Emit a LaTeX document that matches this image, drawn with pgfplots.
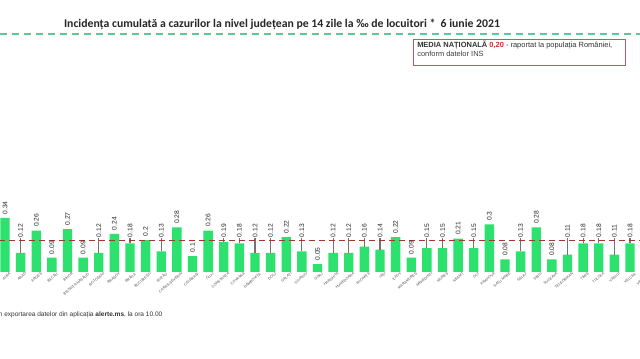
\documentclass[border=0pt]{standalone}
\usepackage{pgfplots}
\pgfplotsset{compat=1.18}
\usepackage{pgfplotstable}
\usepackage{fontspec}
\setmainfont{Liberation Sans}
\newfontfamily\calibri{Carlito}
\definecolor{bargreen}{RGB}{45,225,110}
\definecolor{meanred}{RGB}{165,55,45}
\definecolor{dashgreen}{RGB}{95,200,155}
\definecolor{boxred}{RGB}{190,90,95}
\definecolor{valred}{RGB}{215,40,40}

% x = county index, y = incidence, ly = label position
\pgfplotstableread{
x y ly lbl
0 0.34 0.358 0.34
1 0.12 0.214 0.12
2 0.26 0.278 0.26
3 0.09 0.108 0.09
4 0.27 0.288 0.27
5 0.09 0.108 0.09
6 0.12 0.214 0.12
7 0.24 0.258 0.24
8 0.18 0.214 0.18
9 0.20 0.218 0.2
10 0.13 0.214 0.13
11 0.28 0.298 0.28
12 0.10 0.118 0.1
13 0.26 0.278 0.26
14 0.19 0.214 0.19
15 0.18 0.214 0.18
16 0.12 0.214 0.12
17 0.12 0.214 0.12
18 0.22 0.238 0.22
19 0.13 0.214 0.13
20 0.05 0.068 0.05
21 0.12 0.214 0.12
22 0.12 0.214 0.12
23 0.16 0.214 0.16
24 0.14 0.214 0.14
25 0.22 0.238 0.22
26 0.09 0.108 0.09
27 0.15 0.214 0.15
28 0.15 0.214 0.15
29 0.21 0.228 0.21
30 0.15 0.214 0.15
31 0.30 0.318 0.3
32 0.08 0.098 0.08
33 0.13 0.214 0.13
34 0.28 0.298 0.28
35 0.08 0.098 0.08
36 0.11 0.214 0.11
37 0.18 0.214 0.18
38 0.18 0.214 0.18
39 0.11 0.214 0.11
40 0.18 0.214 0.18
}\incid

\begin{document}
\begin{tikzpicture}[x=0.75pt,y=0.75pt]
\useasboundingbox (0,0) rectangle (640,359);
\fill[white] (0,0) rectangle (640,359);
\clip (0,0) rectangle (640,359);

\node[font=\calibri\bfseries\fontsize{8.8}{10}\selectfont, text=black!85, inner sep=0pt] at (282,335)
  {Incidența cumulată a cazurilor la nivel județean pe 14 zile la ‰ de locuitori *~~6 iunie 2021};
\draw[dashgreen, line width=0.9pt, dash pattern=on 5.5pt off 3.5pt] (0,325) -- (640,325);

\draw[boxred, line width=0.5pt, fill=white] (413,294) rectangle (625,320);
\node[anchor=base west, inner sep=0pt, font=\fontsize{5.6}{6.5}\selectfont, text=black!80] at (417,311.5)
  {\textbf{MEDIA NAȚIONALĂ} \textcolor{valred}{\textbf{0,20}} - raportat la populația României,};
\node[anchor=base west, inner sep=0pt, font=\fontsize{5.6}{6.5}\selectfont, text=black!75] at (417,302.5)
  {conform datelor INS};

\node[anchor=base west, inner sep=0pt, font=\fontsize{4.9}{6}\selectfont, text=black!80] at (-6.5,42.5)
  {din exportarea datelor din aplicația \textbf{alerte.ms}, la ora 10.00};

\begin{axis}[
  at={(-2.109pt,65.25pt)}, anchor=south west,
  x=11.71875pt, y=119.25pt,
  xmin=-0.5, xmax=41.5, ymin=0, ymax=0.42,
  clip=false,
  axis line style={draw=none},
  ytick=\empty,
  xtick={0,...,41},
  xticklabels={ALBA,ARAD,ARGEȘ,BACĂU,BIHOR,BISTRIȚA-NĂSĂUD,BOTOȘANI,BRAȘOV,BRĂILA,BUCUREȘTI,BUZĂU,CARAȘ-SEVERIN,CĂLĂRAȘI,CLUJ,CONSTANȚA,COVASNA,DÂMBOVIȚA,DOLJ,GALAȚI,GIURGIU,GORJ,HARGHITA,HUNEDOARA,IALOMIȚA,IAȘI,ILFOV,MARAMUREȘ,MEHEDINȚI,MUREȘ,NEAMȚ,OLT,PRAHOVA,SATU MARE,SĂLAJ,SIBIU,SUCEAVA,TELEORMAN,TIMIȘ,TULCEA,VASLUI,VÂLCEA,VRANCEA},
  major tick length=0pt,
  xticklabel style={rotate=40, anchor=north east, inner sep=0pt, xshift=2.5pt, yshift=-2pt,
     font=\fontsize{2.7}{3}\selectfont, text=black!70},
  unbounded coords=jump,
]
\addplot[ybar, bar width=7pt, fill=bargreen, draw=none, bar shift=0pt] table[x=x,y=y] {\incid};
% leader lines from bar top up to the value label
\addplot[draw=black!55, line width=0.8pt, mark=none] coordinates {
 (1,0.12) (1,0.214) (nan,nan)
 (6,0.12) (6,0.214) (nan,nan)
 (8,0.18) (8,0.214) (nan,nan)
 (10,0.13) (10,0.214) (nan,nan)
 (14,0.19) (14,0.214) (nan,nan)
 (15,0.18) (15,0.214) (nan,nan)
 (16,0.12) (16,0.214) (nan,nan)
 (17,0.12) (17,0.214) (nan,nan)
 (19,0.13) (19,0.214) (nan,nan)
 (21,0.12) (21,0.214) (nan,nan)
 (22,0.12) (22,0.214) (nan,nan)
 (23,0.16) (23,0.214) (nan,nan)
 (24,0.14) (24,0.214) (nan,nan)
 (27,0.15) (27,0.214) (nan,nan)
 (28,0.15) (28,0.214) (nan,nan)
 (30,0.15) (30,0.214) (nan,nan)
 (33,0.13) (33,0.214) (nan,nan)
 (36,0.11) (36,0.214) (nan,nan)
 (37,0.18) (37,0.214) (nan,nan)
 (38,0.18) (38,0.214) (nan,nan)
 (39,0.11) (39,0.214) (nan,nan)
 (40,0.18) (40,0.214)
};
\addplot[draw=meanred, line width=0.7pt, dash pattern=on 4.5pt off 3pt] coordinates {(-1,0.2) (42,0.2)};
\addplot[draw=none, mark=none, nodes near coords, point meta=explicit symbolic,
  nodes near coords style={rotate=90, anchor=west, inner sep=0.4pt, font=\fontsize{5}{6}\selectfont, text=black!85}]
  table[x=x,y=ly,meta=lbl] {\incid};
\end{axis}
\end{tikzpicture}
\end{document}
